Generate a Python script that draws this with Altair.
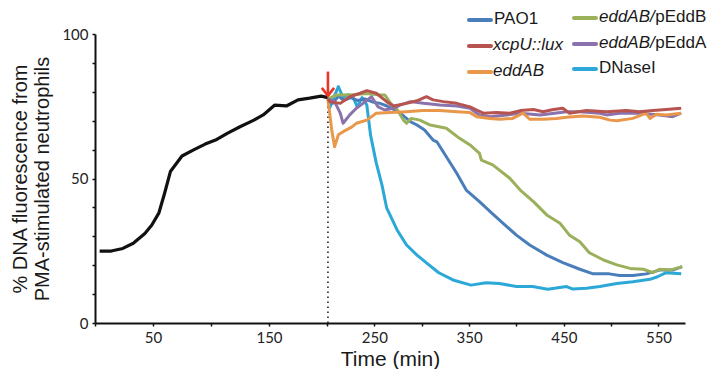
import altair as alt
import pandas as pd

# ---------------- data ----------------
black_t = [4, 14, 24, 33, 43, 49, 55, 60, 65, 75, 85, 95, 105, 114, 125, 137, 145, 155, 165, 175, 185, 195, 201]
black_v = [24.9, 24.9, 25.8, 27.6, 31, 33.9, 38, 44.9, 52.4, 57.8, 59.9, 61.9, 63.5, 65.6, 67.9, 70.2, 72, 75.4, 75.1, 77.2, 77.8, 78.5, 78]

pao1_t = [201, 206, 212, 218, 225, 232, 240, 248, 256, 264, 270, 277, 288, 295, 303, 312, 316, 326, 337, 347, 361, 374, 386, 400, 414, 432, 449, 467, 481, 498, 509, 523, 537, 551, 565, 575]
pao1_v = [77.5, 76, 78.5, 77, 78, 77, 77.5, 76.5, 76, 75, 74, 72.7, 69.7, 68.5, 66.8, 63.3, 62.7, 57.5, 51.8, 46, 42, 38, 34.5, 30.4, 27, 23.5, 20.9, 18.6, 17, 17, 16.4, 16.4, 17, 18.3, 18.3, 19.5]

xcpu_t = [201, 203, 214, 224, 235, 242, 252, 263, 270, 284, 295, 305, 312, 323, 337, 351, 358, 365, 379, 393, 404, 418, 428, 439, 449, 456, 474, 495, 516, 530, 544, 558, 574]
xcpu_v = [77.5, 76.6, 76, 78.3, 79.5, 80.4, 79.5, 76.6, 75.1, 76, 76.9, 78.3, 77.2, 76.6, 76, 74.8, 73.7, 72.6, 72.8, 72.6, 73.5, 73.9, 73.1, 73.9, 74.3, 72.6, 73.5, 73.1, 73.5, 73.1, 73.5, 73.9, 74.3]

eddab_t = [201, 205, 208, 212, 217, 226, 231, 242, 252, 267, 284, 301, 319, 337, 351, 358, 372, 383, 396, 407, 414, 428, 442, 453, 470, 488, 499, 506, 523, 537, 541, 548, 558, 574]
eddab_v = [77.5, 66.8, 61, 65.1, 66.2, 67.8, 69.1, 70.2, 72.6, 72.8, 73.1, 73.5, 73.5, 73.1, 72.8, 71.4, 70.8, 70.5, 70.8, 72.6, 70.5, 70.5, 70.8, 71.2, 71.6, 71.2, 70.2, 70, 70.8, 72.6, 70.8, 72.2, 72, 72.6]

peddb_t = [201, 210, 224, 242, 256, 261, 267, 274, 281, 284, 289, 298, 309, 326, 340, 351, 361, 363, 375, 393, 404, 418, 432, 446, 456, 467, 477, 492, 506, 520, 534, 544, 551, 562, 575]
peddb_v = [77.5, 78.9, 78.9, 79.4, 78.9, 78.9, 76.1, 73.9, 70.1, 69.1, 70.8, 70.2, 68.5, 67.4, 63.9, 61.6, 58.7, 56.4, 54.7, 50.1, 46, 42, 37.4, 34.5, 30.4, 28.1, 24.3, 21.8, 20.1, 18.9, 18.6, 17.4, 18.6, 18.3, 19.5]

pedda_t = [201, 208, 214, 217, 224, 231, 238, 247, 254, 261, 270, 277, 288, 302, 319, 337, 351, 361, 372, 390, 404, 425, 453, 467, 488, 495, 509, 530, 551, 565, 574]
pedda_v = [77.5, 76.6, 72.6, 69.1, 72, 74.3, 76, 78.3, 74.8, 73.7, 74.3, 75.4, 76.6, 76, 75.4, 75.1, 74.3, 72, 71.4, 72, 72.6, 72, 73.1, 73.1, 72.6, 72, 72.6, 72.6, 72, 71.4, 72.6]

dnase_t = [201, 203, 207, 212, 217, 222, 227, 232, 237, 242, 246, 252, 258, 263, 274, 284, 295, 305, 318, 333, 352, 368, 382, 400, 417, 433, 453, 459, 474, 488, 506, 523, 541, 549, 558, 574]
dnase_v = [77.5, 74.5, 78, 81.8, 78, 79, 78.5, 74.8, 78, 75.5, 65, 55.4, 47.8, 39.8, 32.2, 27, 23.5, 20.8, 17.4, 14.9, 13.1, 13.9, 13.7, 12.6, 12.6, 11.7, 12.6, 11.8, 12, 12.6, 13.7, 14.3, 15.1, 16, 17.4, 17]

arrow_t = [201]
arrow_tip = [78.6]
arrow_tail = [87]
dotted_top = [77]

# ---------------- styling ----------------
series = [
    ("pre", black_t, black_v, "#111111"),
    ("DNaseI", dnase_t, dnase_v, "#2ba8d8"),
    ("PAO1", pao1_t, pao1_v, "#4a7ebb"),
    ("eddAB/pEddB", peddb_t, peddb_v, "#9bb05a"),
    ("eddAB/pEddA", pedda_t, pedda_v, "#8a73ad"),
    ("eddAB", eddab_t, eddab_v, "#e9974a"),
    ("xcpU::lux", xcpu_t, xcpu_v, "#b85450"),
]
colors = {s[0]: s[3] for s in series}

rows = []
for name, ts, vs, _ in series:
    for t, v in zip(ts, vs):
        rows.append({"series": name, "t": t, "v": v})
df = pd.DataFrame(rows)

xscale = alt.Scale(domain=[0, 200, 578], range=[0, 232, 590], nice=False, zero=False)
yscale = alt.Scale(domain=[0, 100], nice=False, zero=True)

xaxis = alt.Axis(
    values=list(range(0, 551, 50)),
    labelExpr="datum.value % 100 == 50 ? datum.label : ''",
    title="Time (min)", grid=False, titleFontSize=21, titlePadding=3,
)
yaxis = alt.Axis(
    values=list(range(0, 101, 10)),
    labelExpr="datum.value % 50 == 0 ? datum.label : ''",
    title=["% DNA fluorescence from", "PMA-stimulated neutrophils"],
    grid=False, titlePadding=9, titleLineHeight=22, titleFontSize=20,
)


def X(field):
    return alt.X(field, scale=xscale, axis=xaxis)


def Y(field):
    return alt.Y(field, scale=yscale, axis=yaxis)


base = alt.Chart(df)
line_layers = []
for name, _, _, col in series:
    line_layers.append(
        base.transform_filter(alt.datum.series == name)
        .mark_line(color=col, strokeWidth=3 if name != "pre" else 3.2, strokeJoin="round")
        .encode(x=X("t:Q"), y=Y("v:Q"), order="t:Q")
    )

one = alt.InlineData(values=[{"k": 1}])

# dotted marker line and red arrow
dot_df = pd.DataFrame({"t": arrow_t, "top": dotted_top, "bot": [0]})
dotted = alt.Chart(dot_df).mark_rule(color="#222", strokeWidth=1.6, strokeDash=[1.6, 3.4]).encode(
    x=X("t:Q"), y=Y("bot:Q"), y2="top:Q"
)
arr_df = pd.DataFrame({"t": arrow_t, "tip": arrow_tip, "tail": arrow_tail})
arrow_shaft = alt.Chart(arr_df).mark_rule(color="#e8352a", strokeWidth=2.6).encode(
    x=X("t:Q"), y=Y("tail:Q"), y2="tip:Q"
)
arrow_head = alt.Chart(arr_df).mark_point(
    shape="M-1,-1.3L0,0L1,-1.3", filled=False, color="#e8352a", strokeWidth=2.6, size=150, opacity=1
).encode(x=X("t:Q"), y=Y("tip:Q"))

# legend (manual, so that italic and upright parts can be mixed)
OX, OY = 95, 34
legend_items = [
    # (series, italic part, upright part, swatch x0, swatch x1, text x, y)
    ("PAO1", "", "PAO1", 469, 491, 494, 19),
    ("xcpU::lux", "xcpU::lux", "", 469, 491, 493, 45),
    ("eddAB", "eddAB", "", 469, 491, 493, 71),
    ("eddAB/pEddB", "eddAB/", "pEddB", 574, 596, 599, 17),
    ("eddAB/pEddA", "eddAB/", "pEddA", 574, 596, 599, 43),
    ("DNaseI", "", "DNaseI", 574, 596, 599, 68),
]
FS = 17
ital_w = {"eddAB/": 56.2}
legend_layers = []
for name, ipart, upart, sx0, sx1, tx, ty in legend_items:
    legend_layers.append(
        alt.Chart(one).mark_rule(color=colors[name], strokeWidth=4, strokeCap="round").encode(
            x=alt.value(sx0 - OX), x2=alt.value(sx1 - OX), y=alt.value(ty - OY + 1)
        )
    )
    cx = tx
    if ipart:
        legend_layers.append(
            alt.Chart(one).mark_text(
                text=ipart, align="left", baseline="middle", font="Liberation Sans",
                fontSize=FS, fontStyle="italic", color="#1a1a1a"
            ).encode(x=alt.value(cx - OX), y=alt.value(ty - OY))
        )
        cx += ital_w.get(ipart, 0)
    if upart:
        legend_layers.append(
            alt.Chart(one).mark_text(
                text=upart, align="left", baseline="middle", font="Liberation Sans",
                fontSize=FS, color="#1a1a1a"
            ).encode(x=alt.value(cx - OX), y=alt.value(ty - OY))
        )

chart = alt.layer(dotted, *line_layers, arrow_shaft, arrow_head, *legend_layers).properties(
    width=591, height=289,
    autosize=alt.AutoSizeParams(type="none"),
    padding={"left": 87, "top": 26, "right": 25, "bottom": 46},
).configure_view(stroke=None).configure_axis(
    domainColor="#111", domainWidth=2, tickColor="#111", tickWidth=1.5, tickSize=3,
    labelFont="Lato", labelFontSize=15, labelColor="#222", labelPadding=4,
    titleFont="Liberation Sans", titleFontWeight="normal", titleColor="#1a1a1a",
)

chart.save("out.html", embed_options={"renderer": "svg", "actions": False})
